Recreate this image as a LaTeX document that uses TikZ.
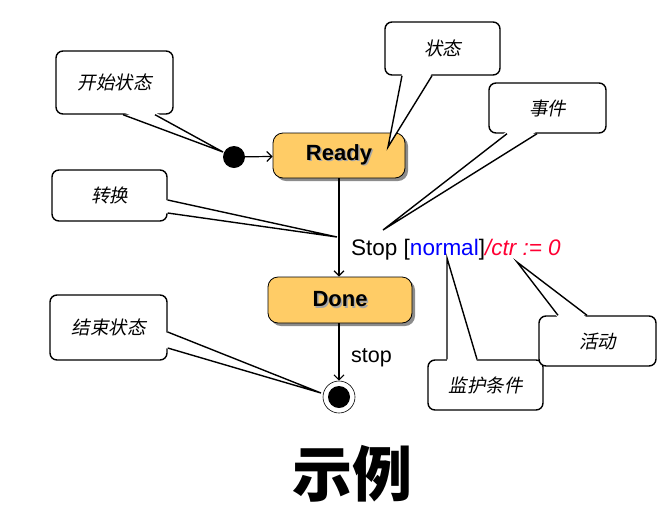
\documentclass[tikz,border=0pt]{standalone}
\usepackage{fontspec}
\setmainfont{Liberation Sans}
\newfontfamily\cjkit[FakeSlant=0.2]{Noto Sans CJK SC}
\newfontfamily\cjk{Noto Sans CJK SC}
\usetikzlibrary{arrows.meta,shadows,calc}
\definecolor{statefill}{HTML}{FFCC66}
\definecolor{actred}{HTML}{FF0033}
\newcommand\shtext[1]{\makebox[0pt][l]{\hspace{1.5pt}\raisebox{-1.5pt}{\color{black!35}#1}}#1}
\newcommand\callptr[3]{% #1 base1, #2 base2, #3 tip
  \fill[white] ($#1+(0,-2.5)$) -- #3 -- ($#2+(0,-2.5)$) -- cycle;
  \draw[ptr] #1 -- #3 -- #2;}
\newcommand\callptrside[3]{% right-edge base
  \fill[white] ($#1+(-2.5,0)$) -- #3 -- ($#2+(-2.5,0)$) -- cycle;
  \draw[ptr] #1 -- #3 -- #2;}
\newcommand\callptrtop[3]{% top-edge base
  \fill[white] ($#1+(0,2.5)$) -- #3 -- ($#2+(0,2.5)$) -- cycle;
  \draw[ptr] #1 -- #3 -- #2;}
\tikzset{
  callout/.style={draw, line width=1.4pt, rounded corners=7pt, fill=white, inner sep=0pt,
    font=\cjkit\fontsize{18.5}{18.5}\selectfont},
  ptr/.style={line width=1.4pt, line join=miter},
  state/.style={draw=black, line width=0.8pt, rounded corners=10pt, fill=statefill, inner sep=0pt,
    font=\bfseries\fontsize{22}{22}\selectfont,
    drop shadow={shadow xshift=3pt, shadow yshift=-3pt, fill=black!45, opacity=1}},
  trans/.style={line width=1.2pt, -{Straight Barb[length=5pt,width=10pt,line width=1.2pt]}},
  lbl/.style={anchor=base west, inner sep=0pt, font=\fontsize{22.5}{22.5}\selectfont},
}
\begin{document}
\begin{tikzpicture}[x=1pt,y=-1pt]
\useasboundingbox (0,0) rectangle (672,523);
% states
\node[state, minimum width=132pt, minimum height=45pt] (ready) at (339,155.5) {\shtext{Ready}};
\node[state, minimum width=144pt, minimum height=46pt] (done) at (340,300) {\shtext{Done}};
\node[circle, fill=black, minimum size=22pt, inner sep=0pt] (init) at (234,157) {};
\node[circle, draw=black, line width=0.6pt, fill=white, minimum size=32pt, inner sep=0pt] (fin) at (339,397) {};
\node[circle, fill=black, minimum size=22pt, inner sep=0pt] (finin) at (339,397) {};
% transitions
\draw[trans] (init) -- (ready);
\draw[trans] (ready.south) -- (ready.south |- done.north);
\draw[trans] (done.south -| fin) -- (fin.north);
\node[lbl] (trlbl) at (351,255) {Stop [\textcolor{blue}{normal}]\textcolor{actred}{\itshape /ctr := 0}};
\node[lbl, font=\fontsize{21.5}{21.5}\selectfont] (stoplbl) at (351,362) {stop};
% tips
\coordinate (tStart) at (223,152);
\coordinate (tState) at (388,147);
\coordinate (tEvent) at (383,230);
\coordinate (tTrans) at (337,237);
\coordinate (tFinal) at (321,393);
\coordinate (tGuard) at (447,258);
\coordinate (tAct) at (517,262);
% callouts
\node[callout, minimum width=117pt, minimum height=63pt] (cStart) at (114.5,82.5) {开始状态};
\callptr{(123,0 |- cStart.south)}{(155,0 |- cStart.south)}{(tStart)}
\node[callout, minimum width=115pt, minimum height=53pt] (cState) at (442.5,48.5) {状态};
\callptr{(402,0 |- cState.south)}{(432,0 |- cState.south)}{(tState)}
\node[callout, minimum width=117pt, minimum height=50pt] (cEvent) at (547.5,108) {事件};
\callptr{(507,0 |- cEvent.south)}{(537,0 |- cEvent.south)}{(tEvent)}
\node[callout, minimum width=115pt, minimum height=51pt] (cTrans) at (109.5,195.5) {转换};
\callptrside{(cTrans.east |- 0,200)}{(cTrans.east |- 0,213)}{(tTrans)}
\node[callout, minimum width=117pt, minimum height=65pt] (cFinal) at (108.5,327.5) {结束状态};
\callptrside{(cFinal.east |- 0,332)}{(cFinal.east |- 0,348)}{(tFinal)}
\node[callout, minimum width=115pt, minimum height=50pt] (cGuard) at (485.5,385) {监护条件};
\callptrtop{(447,0 |- cGuard.north)}{(477,0 |- cGuard.north)}{(tGuard)}
\node[callout, minimum width=117pt, minimum height=50pt] (cAct) at (597.5,341) {活动};
\callptrtop{(558,0 |- cAct.north)}{(587,0 |- cAct.north)}{(tAct)}
% title
\node[font=\cjk\bfseries\fontsize{60}{60}\selectfont, inner sep=0pt] (title) at (352,474) {示例};
\end{tikzpicture}
\end{document}
